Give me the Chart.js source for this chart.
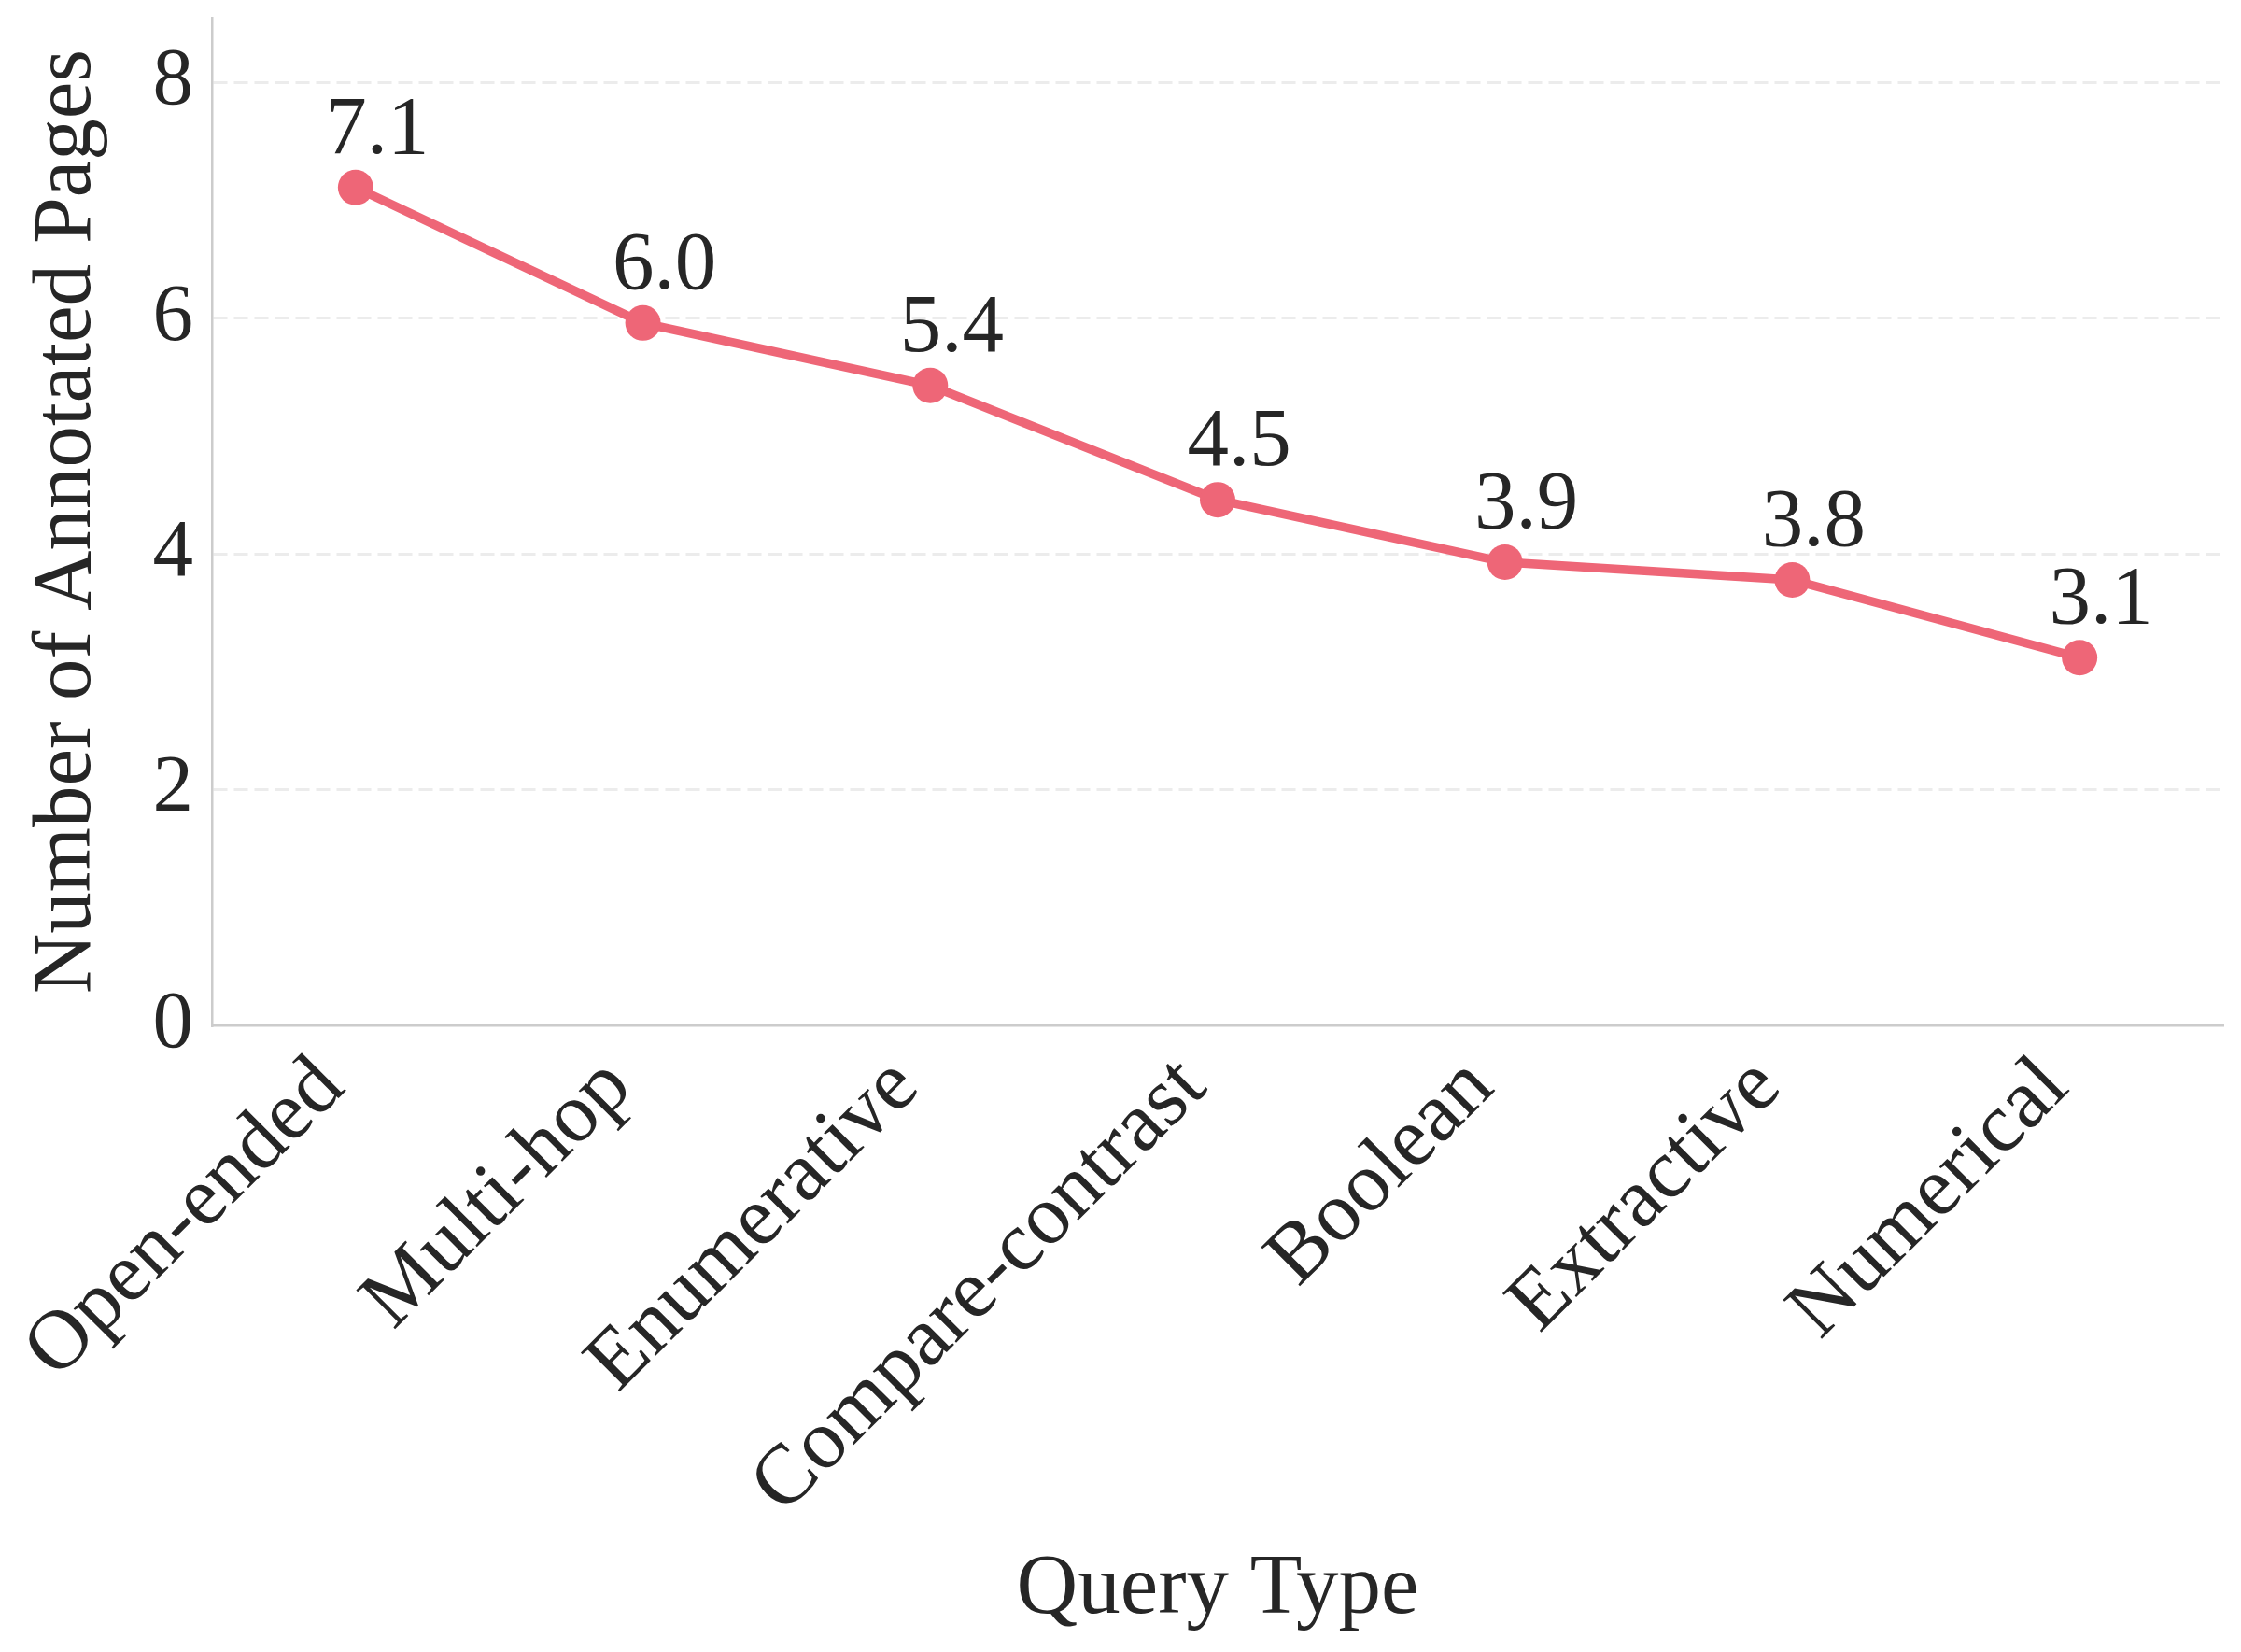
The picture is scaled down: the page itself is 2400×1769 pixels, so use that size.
<!DOCTYPE html>
<html>
<head>
<meta charset="utf-8">
<script src="https://cdn.jsdelivr.net/npm/chart.js@4.4.1/dist/chart.umd.min.js"></script>
<style>
  html, body { margin: 0; padding: 0; background: #ffffff; }
  #wrap { width: 2400px; height: 1769px; }
</style>
</head>
<body>
<div id="wrap"><canvas id="c" width="2400" height="1769"></canvas></div>
<script>
const categories = ["Open-ended", "Multi-hop", "Enumerative", "Compare-contrast", "Boolean", "Extractive", "Numerical"];
const avgPages = [7.11, 5.96, 5.43, 4.46, 3.93, 3.78, 3.12];
const yTickValues = [0, 2, 4, 6, 8];
const yMax = 8.55;
const xTitle = "Query Type";
const yTitle = "Number of Annotated Pages";

const FONT = "'Liberation Serif', 'Times New Roman', serif";
const TEXT = "#262626";
const LINE = "#EE6677";

const valueLabels = {
  id: 'valueLabels',
  afterDatasetsDraw(chart) {
    const ctx = chart.ctx;
    const meta = chart.getDatasetMeta(0);
    ctx.save();
    ctx.font = "89px " + FONT;
    ctx.fillStyle = TEXT;
    ctx.textAlign = 'center';
    ctx.textBaseline = 'alphabetic';
    meta.data.forEach((el, i) => {
      ctx.fillText(avgPages[i].toFixed(1), el.x + 23, el.y - 37);
    });
    ctx.restore();
  }
};

new Chart(document.getElementById('c'), {
  type: 'line',
  data: {
    labels: categories,
    datasets: [{
      data: avgPages,
      borderColor: LINE,
      backgroundColor: LINE,
      borderWidth: 9.5,
      pointRadius: 19,
      pointHoverRadius: 19,
      pointBorderWidth: 0,
      pointBackgroundColor: LINE,
      tension: 0,
      fill: false
    }]
  },
  options: {
    responsive: false,
    devicePixelRatio: 1,
    animation: false,
    layout: { padding: { top: 15, right: 15, left: 0, bottom: 0 } },
    plugins: {
      legend: { display: false },
      tooltip: { enabled: false }
    },
    scales: {
      x: {
        type: 'category',
        offset: true,
        grid: { display: false, drawTicks: false },
        border: { display: true, color: '#cccccc', width: 2.5 },
        ticks: {
          autoSkip: false,
          maxRotation: 45,
          minRotation: 45,
          padding: 14,
          labelOffset: -26,
          color: TEXT,
          font: { family: FONT, size: 90 }
        },
        title: {
          display: true,
          text: xTitle,
          color: TEXT,
          font: { family: FONT, size: 91 },
          padding: { top: 0, bottom: 11 }
        },
        afterFit(scale) {
          scale.height = 671;
          scale.paddingLeft = 0;
          scale.paddingRight = 0;
        }
      },
      y: {
        min: 0,
        max: yMax,
        grid: {
          display: true,
          drawTicks: false,
          color: (c) => (c.tick && c.tick.value === 0) ? 'rgba(0,0,0,0)' : '#ececec',
          lineWidth: 3
        },
        border: { display: true, color: '#cccccc', width: 2.5, dash: [15, 7] },
        ticks: {
          includeBounds: false,
          padding: 20,
          color: TEXT,
          font: { family: FONT, size: 87 }
        },
        afterBuildTicks(scale) {
          scale.ticks = yTickValues.map(v => ({ value: v }));
        },
        title: {
          display: true,
          text: yTitle,
          color: TEXT,
          font: { family: FONT, size: 89 },
          padding: { top: 19, bottom: 0 }
        },
        afterFit(scale) {
          scale.width = 227;
          scale.paddingTop = 0;
          scale.paddingBottom = 0;
        }
      }
    }
  },
  plugins: [valueLabels]
});
</script>
</body>
</html>
